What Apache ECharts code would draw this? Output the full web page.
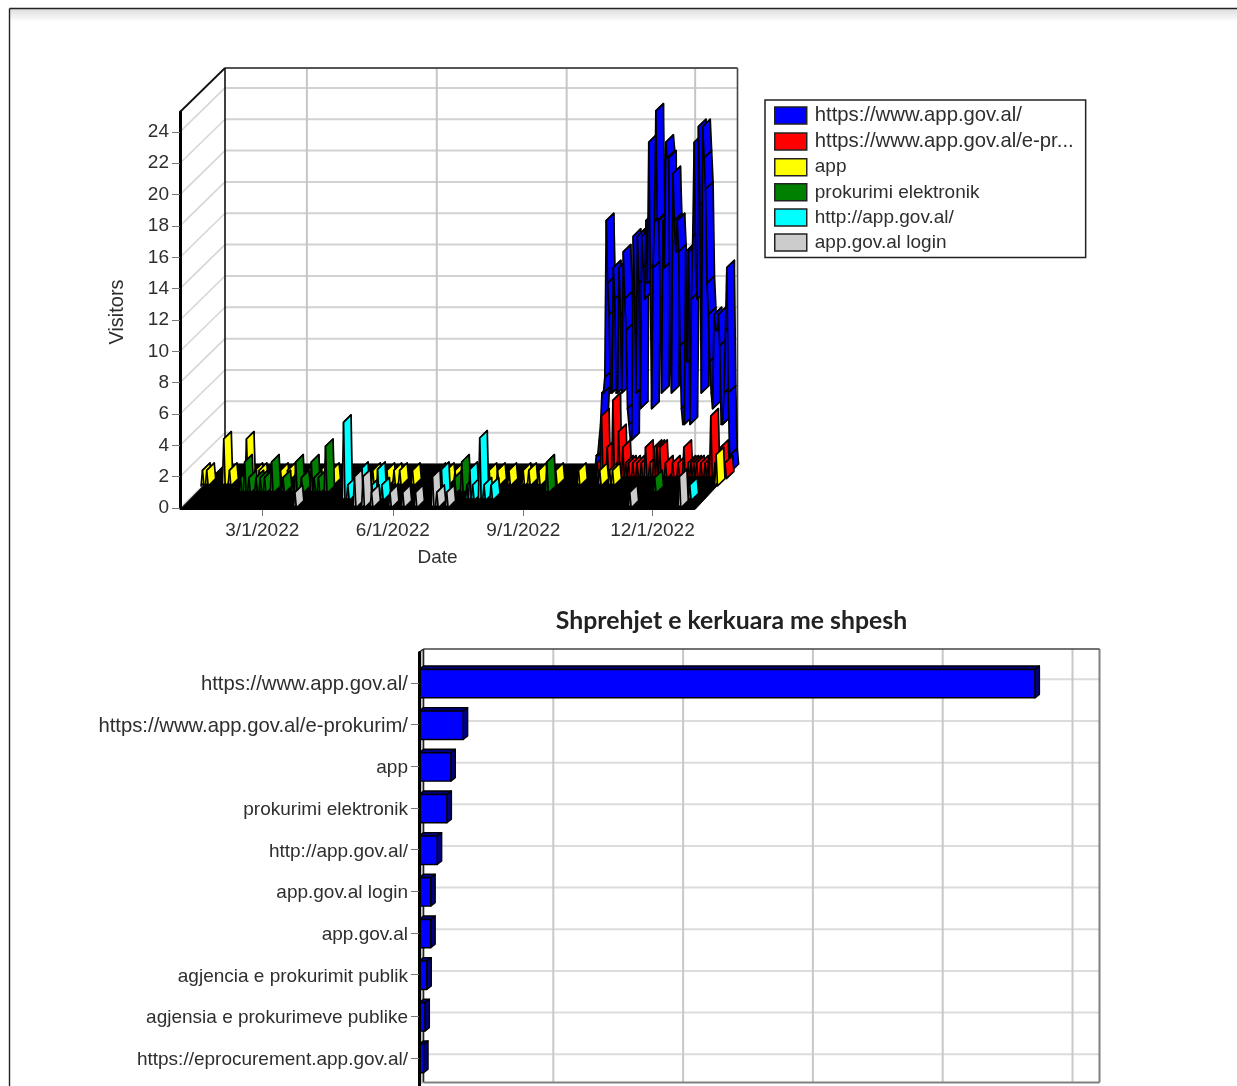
<!DOCTYPE html>
<html>
<head>
<meta charset="utf-8">
<style>html,body{margin:0;padding:0;background:#fff;overflow:hidden}#c{width:1237px;height:1086px;filter:blur(0.45px)}</style>
<script src="https://cdn.jsdelivr.net/npm/echarts@6/dist/echarts.min.js"></script>
</head>
<body>
<div id="c"></div>
<script>
// x values are days of the year 2022 (1 = Jan 1)
const dateTickDays = [60, 152, 244, 335];
const dateTickLabels = ['3/1/2022', '6/1/2022', '9/1/2022', '12/1/2022'];
const visitorTicks = [0,2,4,6,8,10,12,14,16,18,20,22,24];

const blueDays = [269,270,271,272,273,274,275,276,277,278,279,280,281,282,283,284,285,286,287,288,289,290,291,292,293,294,295,296,297,298,299,300,301,302,303,304,305,306,307,308,309,310,311,312,313,314,315,316,317,318,319,320,321,322,323,324,325,326,327,328,329,330,331,332,333,334,335,336,337,338,339,340,341,342,343,344,345,346,347,348,349,350,351,352,353,354,355,356,357,358,359,360,361,362,363];
const blueValues = [1,1,2,3,5,5,6,16,12,10,5,5,13,11,5,5,13,10,5,14,11,9,4,3,2,2,15,11,5,15,12,4,15,13,11,16,12,21,13,4,13,16,23,16,16,11,5,16,13,21,20,20,8,5,19,16,14,16,14,8,4,3,3,14,7,14,3,11,15,21,13,11,22,17,5,22,20,18,12,10,7,5,4,10,9,9,10,8,3,3,5,9,13,5,1];
const redDays = [275,278,282,286,290,293,295,297,300,303,306,309,312,315,317,319,323,328,332,336,339,341,343,345,348,351,353,355,358,362,365];
const redValues = [1,4,2,5,3,2,1,1,1,1,1,2,1,2,2,2,1,1,1,2,1,1,1,1,1,1,1,4,1,2,1];
const yellowDays = [2,5,17,21,33,39,42,57,62,76,85,93,122,132,137,141,150,168,174,180,204,210,218,228,232,239,251,267,282,289,291,364];
const yellowValues = [1,1,3,1,3,1,1,1,1,1,1,1,1,1,1,1,1,1,1,1,1,1,1,1,1,1,1,1,1,1,1,2];
const greenDays = [34,37,40,45,48,51,56,64,71,73,77,84,86,89,94,185,190,250,326];
const greenValues = [1,2,1,1,1,1,2,1,1,2,1,2,1,1,3,1,2,2,1];
const cyanDays = [112,115,124,132,136,139,181,199,201,203,208,211,216,356];
const cyanValues = [5,1,2,1,2,1,2,1,2,1,4,1,1,1];
const grayDays = [83,125,131,137,150,159,168,180,183,190,319,354];
const grayValues = [1,2,2,1,1,1,1,2,1,1,1,2];

const seriesNames = ['https://www.app.gov.al/','https://www.app.gov.al/e-pr...','app','prokurimi elektronik','http://app.gov.al/','app.gov.al login'];
const seriesColors = ['#0000ff','#ff0000','#ffff00','#008000','#00ffff','#cccccc'];
const seriesDays = [blueDays,redDays,yellowDays,greenDays,cyanDays,grayDays];
const seriesValues = [blueValues,redValues,yellowValues,greenValues,cyanValues,grayValues];

const chartTitle = 'Shprehjet e kerkuara me shpesh';
const barCategories = ['https://www.app.gov.al/','https://www.app.gov.al/e-prokurim/','app','prokurimi elektronik','http://app.gov.al/','app.gov.al login','app.gov.al','agjencia e prokurimit publik','agjensia e prokurimeve publike','https://eprocurement.app.gov.al/'];
const barValues = [949,68,49,43,28,18,18,12,9,7];
const barTicks = [0,200,400,600,800,1000];

const FONT = '"Liberation Sans", Arial, sans-serif';
const TEXT = '#2e2e2e';
const DX = 45, DY = 44, SLOTS = 6;
const BDX = 4.5, BDY = 3.5, BAR_HALF = 0.34;
const BASE = 19, URL_SIZE = 20.3;
const urlText = s => s.indexOf('www') >= 0 ? '{u|' + s + '}' : s;
const labelRich = {u:{fontFamily:FONT,fontSize:URL_SIZE,color:TEXT}};

function line(a, b, stroke, w) {
  return {type:'line', shape:{x1:a[0],y1:a[1],x2:b[0],y2:b[1]}, style:{stroke:stroke, lineWidth:w}, silent:true};
}
function poly(points, fill, stroke, w) {
  return {type:'polygon', shape:{points:points}, style:{fill:fill, stroke:stroke||null, lineWidth:w||0, lineJoin:'round'}, silent:true};
}

function ridgeSeries(s) {
  const days = seriesDays[s], vals = seriesValues[s], color = seriesColors[s];
  const look = {}; days.forEach((d,i)=>{look[d]=vals[i];});
  const ox = DX*(SLOTS-1-s)/SLOTS, oy = -DY*(SLOTS-1-s)/SLOTS, sx = DX/SLOTS, sy = -DY/SLOTS;
  return {
    type:'custom', name:seriesNames[s], xAxisIndex:0, yAxisIndex:0, silent:true, clip:false,
    itemStyle:{color:color},
    encode:{x:0,y:1},
    data:days.map((d,i)=>[d,vals[i]]),
    renderItem:function(params, api){
      const n = api.value(0), v = api.value(1);
      const pt = (d,y)=>{const c=api.coord([d,y]);return [c[0]+ox,c[1]+oy];};
      const back = p=>[p[0]+sx,p[1]+sy];
      const quad = (a,b)=>poly([a,b,back(b),back(a)],color,'#000',1.7);
      const ch = [];
      const P = pt(n,v);
      if (look[n-1]===undefined) ch.push(quad(pt(n-1,0),P));
      ch.push(quad(P,pt(n+1,look[n+1]||0)));
      return {type:'group',children:ch};
    }
  };
}

const wallSeries = {
  type:'custom', xAxisIndex:0, yAxisIndex:0, silent:true, clip:false, z:1,
  data:[[0,0]],
  renderItem:function(params, api){
    const ext = params.coordSys;
    const L=ext.x,R=ext.x+ext.width,T=ext.y,B=ext.y+ext.height;
    // the back wall is drawn a little narrower than the front plane
    const bk = p=>[L+DX+(p[0]-L)*(512.5/515),p[1]-DY];
    const ch=[];
    visitorTicks.forEach(t=>{
      const y=api.coord([2,t])[1];
      ch.push(line([L,y],bk([L,y]),'#d6d6d6',1.6));
      ch.push(line(bk([L,y]),bk([R,y]),'#d2d2d2',2));
    });
    dateTickDays.forEach(d=>{
      const x=api.coord([d,0])[0];
      ch.push(line(bk([x,T]),bk([x,B]),'#c6c6c6',2));
    });
    ch.push(line(bk([R,T]),bk([R,B]),'#444',1.6));
    ch.push(line(bk([L,T]),bk([R,T]),'#555',1.8));
    ch.push(line([L,T],bk([L,T]),'#111',1.8));
    ch.push(line(bk([L,T]),bk([L,B]),'#111',1.6));
    // floor
    ch.push(poly([[L,B+1.5],[R,B+1.5],bk([R,B]),bk([L,B])],'#000','#000',1));
    return {type:'group',children:ch};
  }
};

const barWall = {
  type:'custom', xAxisIndex:1, yAxisIndex:1, silent:true, clip:false, z:1,
  data:[[0,0]],
  renderItem:function(params, api){
    const e=params.coordSys;
    const L=e.x,R=e.x+e.width,T=e.y,B=e.y+e.height;
    const bk=p=>[p[0]+BDX,p[1]-BDY];
    const ch=[];
    ch.push(poly([[L,T],bk([L,T]),bk([L,B]),[L,B]],'#c8c8c8'));
    barCategories.forEach((c,i)=>{
      const y=api.coord([0,i])[1];
      ch.push(line(bk([L,y]),bk([R,y]),'#dcdcdc',2));
    });
    barTicks.forEach(t=>{
      const x=api.coord([t,0])[0];
      ch.push(t===0?line(bk([x,T]),bk([x,B]),'#222',1.6):line(bk([x,T]),bk([x,B]),'#c8c8c8',2));
    });
    ch.push(line(bk([R,T]),bk([R,B]),'#808080',2));
    ch.push(line(bk([L,T]),bk([R,T]),'#444',1.6));
    ch.push(line([L,T],bk([L,T]),'#222',1.4));
    ch.push(line(bk([L,B]),bk([R,B]),'#808080',2));
    return {type:'group',children:ch};
  }
};

const barSeries = {
  type:'custom', name:'bars', xAxisIndex:1, yAxisIndex:1, silent:true, clip:false,
  encode:{x:0,y:1},
  data:barValues.map((v,i)=>[v,i]),
  renderItem:function(params, api){
    const v=api.value(0), i=api.value(1);
    const a=api.coord([0,i-BAR_HALF+0.02]), b=api.coord([v,i+BAR_HALF+0.02]);
    const x0=a[0],y0=a[1],x1=b[0],y1=b[1];
    const bk=p=>[p[0]+BDX,p[1]-BDY];
    return {type:'group',children:[
      poly([[x0,y0],[x1,y0],bk([x1,y0]),bk([x0,y0])],'#000080','#000',1.4),
      poly([[x1,y0],[x1,y1],bk([x1,y1]),bk([x1,y0])],'#000080','#000',1.4),
      poly([[x0,y0],[x1,y0],[x1,y1],[x0,y1]],'#0000ff','#000',1.4)
    ]};
  }
};

const chart = echarts.init(document.getElementById('c'), null, {renderer:'canvas'});
chart.setOption({
  animation:false,
  backgroundColor:'#fff',
  title:{text:chartTitle,left:726.5,top:604,textAlign:'center',
    textStyle:{fontFamily:'Lato, sans-serif',fontWeight:'bold',fontSize:24.8,color:'#222'}},
  legend:{
    orient:'vertical',left:765,top:100,
    data:seriesNames,selectedMode:false,
    icon:'rect',itemWidth:32,itemHeight:17,itemGap:6.1,
    itemStyle:{borderColor:'#222',borderWidth:1.5},
    padding:[5.5,12,5.5,9],
    backgroundColor:'#fff',borderColor:'#222',borderWidth:1.5,borderRadius:0,
    formatter:urlText,
    textStyle:{fontFamily:FONT,fontSize:BASE,color:TEXT,padding:[0,0,0,3],
      rich:{u:{fontFamily:FONT,fontSize:URL_SIZE,color:TEXT}}}
  },
  grid:[
    {left:180,top:112,width:515,height:396},
    {left:419,top:652.5,width:676,height:436}
  ],
  xAxis:[
    {type:'value',gridIndex:0,min:2,max:365,
     name:'Date',nameLocation:'middle',nameGap:40,nameTextStyle:{fontFamily:FONT,fontSize:BASE,color:TEXT},
     axisLine:{show:true,lineStyle:{color:'#000',width:2}},
     axisTick:{show:true,length:8,customValues:dateTickDays,lineStyle:{color:'#777',width:1}},
     axisLabel:{customValues:dateTickDays,margin:13,fontFamily:FONT,fontSize:BASE,color:TEXT,
       formatter:v=>dateTickLabels[dateTickDays.indexOf(v)]},
     splitLine:{show:false}},
    {type:'value',gridIndex:1,min:0,max:1041.6,show:false,splitLine:{show:false}}
  ],
  yAxis:[
    {type:'value',gridIndex:0,min:0,max:25.27,z:5,
     name:'Visitors',nameLocation:'middle',nameGap:53,
     nameTextStyle:{fontFamily:FONT,fontSize:20,color:TEXT,padding:[0,4,0,0]},
     axisLine:{show:true,lineStyle:{color:'#000',width:3}},
     axisTick:{show:true,length:8,customValues:visitorTicks,lineStyle:{color:'#777',width:1}},
     axisLabel:{customValues:visitorTicks,margin:11,padding:[4,0,0,0],fontFamily:FONT,fontSize:BASE,color:TEXT},
     splitLine:{show:false}},
    {type:'value',gridIndex:1,inverse:true,min:-0.728,max:9.678,z:5,
     axisLine:{show:true,lineStyle:{color:'#000',width:3}},
     axisTick:{show:true,length:8,customValues:barCategories.map((c,i)=>i),lineStyle:{color:'#777',width:1}},
     axisLabel:{customValues:barCategories.map((c,i)=>i),margin:11,padding:[4,0,0,0],fontFamily:FONT,fontSize:BASE,color:TEXT,
       rich:labelRich,
       formatter:v=>urlText(barCategories[v])},
     splitLine:{show:false}}
  ],
  graphic:[
    {type:'rect',shape:{x:10,y:9,width:1227,height:13},z:-1,
     style:{fill:new echarts.graphic.LinearGradient(0,0,0,1,[{offset:0,color:'#dedede'},{offset:1,color:'#ffffff'}])}},
    {type:'line',shape:{x1:9.5,y1:8.5,x2:1237,y2:8.5},style:{stroke:'#222',lineWidth:1.4}},
    {type:'line',shape:{x1:9.5,y1:8.5,x2:9.5,y2:1086},style:{stroke:'#222',lineWidth:1.4}}
  ],
  series:[wallSeries].concat(seriesNames.map((n,i)=>ridgeSeries(i))).concat([barWall,barSeries])
});
</script>
</body>
</html>
